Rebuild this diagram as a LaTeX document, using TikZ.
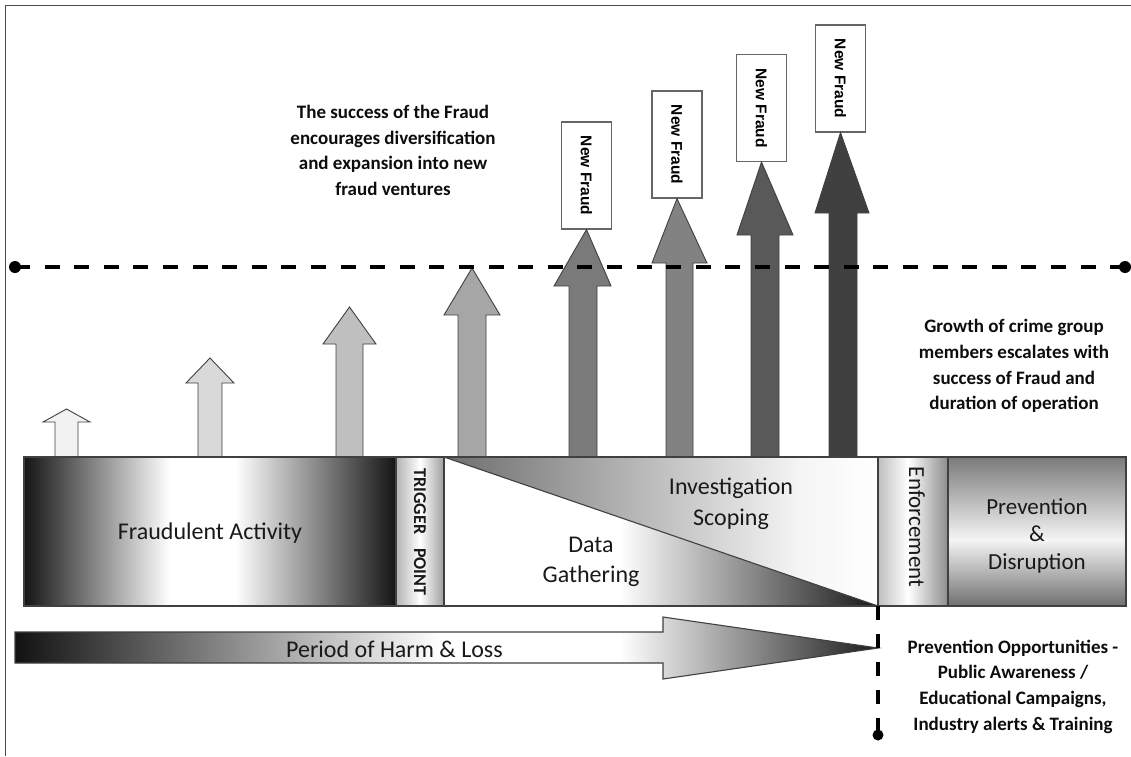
\documentclass[tikz,border=0pt]{standalone}
\usepackage{fontspec}
\setmainfont{Carlito}
\newfontfamily\arialfont{Liberation Sans}
\definecolor{edgegrey}{HTML}{404040}
\begin{document}
\begin{tikzpicture}[x=1pt,y=-1pt,
  outline/.style={draw=edgegrey, line width=1.1pt},
  uparrow/.style={draw=edgegrey, line width=0.9pt, line join=miter},
  newfraud/.style={draw=black!60, fill=white, line width=1.2pt, minimum width=50pt,
    minimum height=107pt, inner sep=0pt, font=\arialfont\bfseries\fontsize{15.5}{18}\selectfont},
  note/.style={font=\bfseries\fontsize{19}{25.7}\selectfont, align=center, text=black!95},
  label/.style={font=\fontsize{24}{31}\selectfont, align=center, text=black!90},
  dashline/.style={line width=4pt, dash pattern=on 15pt off 14.6pt},
  vdashline/.style={line width=3.5pt, dash pattern=on 14pt off 14pt},
]
\useasboundingbox (0,0) rectangle (1131,756);
\fill[white] (0,0) rectangle (1131,756);

% frame
\draw[black!70, line width=1.5pt] (5.5,756) -- (5.5,5.5) -- (1131,5.5);

% growing arrows: fill, shaft left/right, head left/right, head base, tip
\newcommand\upblock[7]{%
  \draw[uparrow, fill=#1] (#2,457) -- (#2,#6) -- (#4,#6) -- #7 -- (#5,#6) -- (#3,#6) -- (#3,457) -- cycle;}

% new fraud boxes
\node[newfraud] (nf1) at (586.5,175.5) {\rotatebox{-90}{New Fraud}};
\node[newfraud] (nf2) at (677,144.5) {\rotatebox{-90}{New Fraud}};
\node[newfraud] (nf3) at (761.5,108) {\rotatebox{-90}{New Fraud}};
\node[newfraud] (nf4) at (840.5,78.5) {\rotatebox{-90}{New Fraud}};

\upblock{black!5}{55}{78}{43}{90}{422}{(66.5,409)}
\upblock{black!15}{198}{222}{186}{234}{383}{(210,358)}
\upblock{black!25}{336}{363}{323}{376}{344}{(349.5,307)}
\upblock{black!35}{458}{486}{444}{500}{315}{(472,268)}
\upblock{black!52}{569}{597}{554}{611}{286}{(nf1.south)}
\upblock{black!49}{666}{693}{652}{707}{263}{(nf2.south)}
\upblock{black!65}{751}{779}{737}{793}{235}{(nf3.south)}
\upblock{black!75}{829}{857}{815}{869}{213}{(nf4.south)}

% fraudulent activity
\shade[left color=black!92, right color=white] (24,457) rectangle (170,606);
\fill[white] (169.5,457) rectangle (235.5,606);
\shade[left color=white, right color=black!92] (235,457) rectangle (396,606);
\draw[outline] (24,457) rectangle (396,606);

% trigger point
\shade[left color=black!30, right color=white] (396,457) rectangle (420,606);
\shade[left color=white, right color=black!38] (420,457) rectangle (444,606);
\draw[outline] (396,457) rectangle (444,606);

% investigation / data gathering
\begin{scope}
  \clip (444,457) -- (878,457) -- (878,606) -- cycle;
  \shade[left color=black!57, right color=black!4] (444,457) rectangle (800,606);
  \shade[left color=black!4, right color=white] (799.5,457) rectangle (878,606);
\end{scope}
\begin{scope}
  \clip (444,457) -- (444,606) -- (878,606) -- cycle;
  \fill[white] (444,457) rectangle (620.5,606);
  \shade[left color=white, right color=black!91] (620,457) rectangle (878,606);
\end{scope}
\draw[outline] (444,457) -- (878,606);
\draw[outline] (444,457) rectangle (878,606);

% enforcement
\shade[left color=black!25, right color=white] (878,457) rectangle (908,606);
\shade[left color=white, right color=black!45] (908,457) rectangle (948,606);
\draw[outline] (878,457) rectangle (948,606);

% prevention & disruption
\shade[top color=black!52, bottom color=black!4] (948,457) rectangle (1126,540);
\shade[top color=black!4, bottom color=black!56] (948,539.5) rectangle (1126,606);
\draw[outline] (948,457) rectangle (1126,606);

% period of harm & loss
\begin{scope}
  \clip (15,632) -- (663,632) -- (663,617) -- (878,648) -- (663,679) -- (663,663) -- (15,663) -- cycle;
  \shade[left color=black!93, right color=white] (15,610) rectangle (440,690);
  \fill[white] (439.5,610) rectangle (620.5,690);
  \shade[left color=white, right color=black!89] (620,610) rectangle (878,690);
\end{scope}
\draw[outline, line join=miter] (15,632) -- (663,632) -- (663,617) -- (878,648) -- (663,679) -- (663,663) -- (15,663) -- cycle;

% timeline markers
\coordinate (hl) at (15,267);
\coordinate (hr) at (1125,267);
\coordinate (vt) at (878,606);
\coordinate (vb) at (878,735);
\draw[dashline] (hl) -- (hr);
\fill (hl) circle (6);
\fill (hr) circle (6);
\draw[vdashline] (vt) -- (vb);
\fill (vb) circle (5.5);

% labels
\node[label] (fraud) at (210,533) {Fraudulent Activity};
\node[font=\bfseries\fontsize{18}{20}\selectfont, rotate=-90, text=black!90] (trig) at (420,532) {TRIGGER\hspace{14pt}POINT};
\node[label] (inv) at (731,503.5) {Investigation\\Scoping};
\node[label, font=\fontsize{24}{30}\selectfont] (data) at (591,562) {Data\\Gathering};
\node[font=\fontsize{23}{25}\selectfont, rotate=-90, text=black!90] (enf) at (917,527) {Enforcement};
\node[label, font=\fontsize{23}{27.5}\selectfont] (prev) at (1037,535.5) {Prevention\\\&\\Disruption};
\node[label] (harm) at (394.5,649) {Period of Harm \& Loss};

\node[note] (success) at (393,150.5) {The success of the Fraud\\encourages diversification\\and expansion into new\\fraud ventures};
\node[note] (growth) at (1014,366) {Growth of crime group\\members escalates with\\success of Fraud and\\duration of operation};
\node[note] (opps) at (1013,686.5) {Prevention Opportunities -\\Public Awareness /\\Educational Campaigns,\\Industry alerts \& Training};
\end{tikzpicture}
\end{document}
